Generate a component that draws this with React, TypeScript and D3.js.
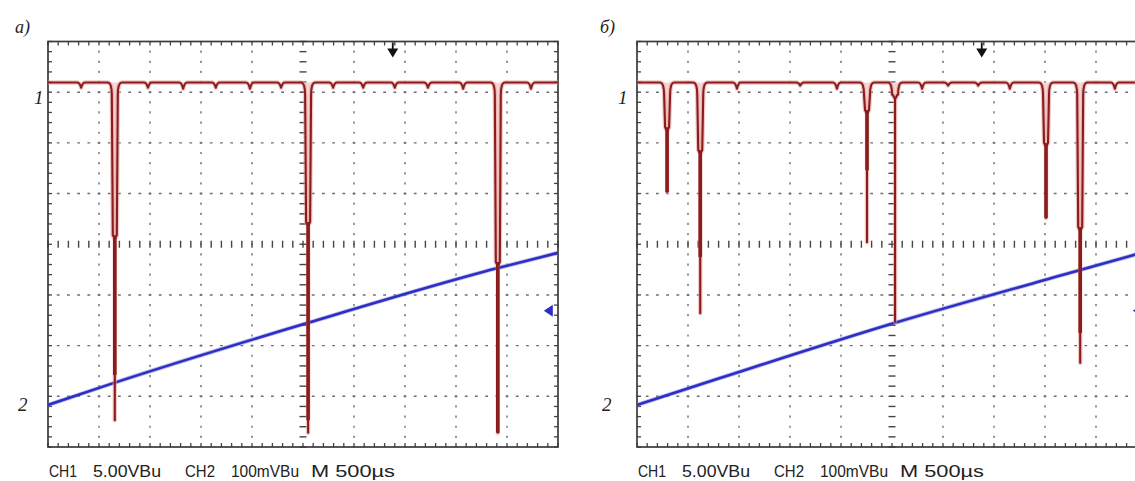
import React from 'react';
import * as d3 from 'd3';

const W = 1135;
const H = 481;
const PANEL_LEFTS = [48, 637];
const PANEL_TOP = 41.5;
const PANEL_W = 510;
const PANEL_H = 405.5;

// text
const panelLetters = ['а)', 'б)'];
const channelLabels = ['1', '2'];
const bottomLabels = ['CH1', '5.00VBu', 'CH2', '100mVBu', 'M 500µs'];
const bottomOffsets = [1, 45, 137, 183, 263];
const bottomWidths = [28, 68, 30, 68, 84];

// channel 1 (divisions)
const ch1Level = 3.19;
// small notches [position, depth]
const smallDipsA: [number, number][] = [
  [0.65, 0.1], [1.96, 0.1], [2.65, 0.12], [3.29, 0.1], [3.96, 0.12], [4.57, 0.1],
  [5.59, 0.1], [6.18, 0.1], [6.8, 0.1], [7.45, 0.1], [8.14, 0.12], [9.47, 0.12],
];
const smallDipsB: [number, number][] = [
  [1.96, 0.12], [3.2, 0.06], [3.92, 0.12], [5.59, 0.12], [6.1, 0.06], [6.69, 0.06],
  [7.31, 0.12], [9.37, 0.12],
];
// deep dips: position, bottom, end of hollow section, end of solid section
const deepDipsA = [
  { pos: 1.31, bottom: -3.47, hollowEnd: 0.18, solidEnd: -2.58 },
  { pos: 5.1, bottom: -3.72, hollowEnd: 0.44, solidEnd: -3.47 },
  { pos: 8.82, bottom: -3.72, hollowEnd: -0.35, solidEnd: -3.72 },
];
const deepDipsB = [
  { pos: 0.59, bottom: 1.03, hollowEnd: 2.31, solidEnd: 1.03 },
  { pos: 1.24, bottom: -1.36, hollowEnd: 1.86, solidEnd: -0.25 },
  { pos: 4.51, bottom: 0.04, hollowEnd: 2.65, solidEnd: 1.46 },
  { pos: 5.06, bottom: -1.53, hollowEnd: 2.94, solidEnd: 2.94 },
  { pos: 8.02, bottom: 0.52, hollowEnd: 2.0, solidEnd: 0.52 },
  { pos: 8.69, bottom: -2.34, hollowEnd: 0.34, solidEnd: -1.75 },
];

// channel 2 ramp [time div, level div]
const rampA: [number, number][] = [[0, -3.17], [1.31, -2.73], [5.1, -1.55], [8.82, -0.47], [10, -0.17]];
const rampB: [number, number][] = [[0, -3.17], [1.63, -2.64], [5.06, -1.55], [8.69, -0.51], [10, -0.14]];

const triggerPos = 6.76;
const ch2Marker: [number, number] = [9.82, -1.31];

const panels = [
  { small: smallDipsA, deep: deepDipsA, ramp: rampA },
  { small: smallDipsB, deep: deepDipsB, ramp: rampB },
];

const RED = '#8b1c1c';
const BLUE = '#2e2ec4';
const GRID = '#6e6e6e';

function Panel({ idx }: { idx: number }) {
  const left = PANEL_LEFTS[idx];
  const { small, deep, ramp } = panels[idx];
  const x = d3.scaleLinear().domain([0, 10]).range([left, left + PANEL_W]);
  const y = d3.scaleLinear().domain([-4, 4]).range([PANEL_TOP + PANEL_H, PANEL_TOP]);
  const top = PANEL_TOP;
  const bottom = PANEL_TOP + PANEL_H;
  const right = left + PANEL_W;
  const minorX = d3.range(51).map((k) => k / 5);
  const minorY = d3.range(41).map((k) => k / 5 - 4);
  const dx = PANEL_W / 50;
  const dy = PANEL_H / 40;

  const base = y(ch1Level);
  type Ev = { kind: 's'; p: number; d: number } | { kind: 'd'; p: number; dip: typeof deepDipsA[0] };
  const events: Ev[] = [
    ...small.map(([p, d]) => ({ kind: 's' as const, p, d })),
    ...deep.map((dip) => ({ kind: 'd' as const, p: dip.pos, dip })),
  ].sort((a, b) => a.p - b.p);

  const tr = d3.path();
  tr.moveTo(x(0), base);
  const hollows: string[] = [];
  events.forEach((e) => {
    const cx = x(e.p);
    if (e.kind === 's') {
      tr.lineTo(cx - 4, base);
      tr.quadraticCurveTo(cx - 1.5, base, cx, y(ch1Level - e.d));
      tr.quadraticCurveTo(cx + 1.5, base, cx + 4, base);
    } else {
      const hy = y(e.dip.hollowEnd);
      const by = y(e.dip.bottom);
      tr.lineTo(cx - 7, base);
      tr.quadraticCurveTo(cx - 3.2, base, cx - 3, base + 12);
      tr.lineTo(cx - 2, hy);
      tr.lineTo(cx, Math.min(hy + 4, by));
      tr.lineTo(cx, by);
      tr.lineTo(cx, Math.min(hy + 4, by));
      tr.lineTo(cx + 2, hy);
      tr.lineTo(cx + 3, base + 12);
      tr.quadraticCurveTo(cx + 3.2, base, cx + 7, base);
      const hp = d3.path();
      hp.moveTo(cx - 6, base);
      hp.quadraticCurveTo(cx - 3.2, base, cx - 3, base + 12);
      hp.lineTo(cx - 2, hy);
      hp.lineTo(cx + 2, hy);
      hp.lineTo(cx + 3, base + 12);
      hp.quadraticCurveTo(cx + 3.2, base, cx + 6, base);
      hp.closePath();
      hollows.push(hp.toString());
    }
  });
  tr.lineTo(x(10), base);

  const rampLine = d3
    .line<[number, number]>()
    .x((d) => x(d[0]))
    .y((d) => y(d[1]))
    .curve(d3.curveMonotoneX)(ramp) as string;

  const tx = x(triggerPos);
  const [mx, my] = [x(ch2Marker[0]), y(ch2Marker[1])];
  const clipId = `clip${idx}`;

  return (
    <g>
      <defs>
        <clipPath id={clipId}>
          <rect x={left} y={top} width={PANEL_W} height={PANEL_H} />
        </clipPath>
      </defs>
      {/* grid */}
      {d3.range(1, 10).filter((i) => i !== 5).map((i) => (
        <line key={'v' + i} x1={x(i)} x2={x(i)} y1={top} y2={bottom} stroke={GRID} strokeWidth={1.4}
          strokeDasharray={`2.2 ${dy - 2.2}`} strokeDashoffset={1.1} />
      ))}
      {d3.range(-3, 4).filter((j) => j !== 0).map((j) => (
        <line key={'h' + j} x1={left} x2={right} y1={y(j)} y2={y(j)} stroke={GRID} strokeWidth={1.4}
          strokeDasharray={`2.8 ${dx - 2.8}`} strokeDashoffset={1.4} />
      ))}
      {/* center cross ticks */}
      {minorX.map((v, k) => (
        <line key={'cx' + k} x1={x(v)} x2={x(v)} y1={y(0) - 3.5} y2={y(0) + 3.5} stroke="#444" strokeWidth={1.4} />
      ))}
      {minorY.map((v, k) => (
        <line key={'cy' + k} x1={x(5) - 3.5} x2={x(5) + 3.5} y1={y(v)} y2={y(v)} stroke="#444" strokeWidth={1.4} />
      ))}
      {/* border ticks */}
      {minorX.map((v, k) => (
        <g key={'bt' + k}>
          <line x1={x(v)} x2={x(v)} y1={top} y2={top + 4} stroke="#444" strokeWidth={1.3} />
          <line x1={x(v)} x2={x(v)} y1={bottom} y2={bottom - 4} stroke="#444" strokeWidth={1.3} />
        </g>
      ))}
      {minorY.map((v, k) => (
        <g key={'bl' + k}>
          <line x1={left} x2={left + 4} y1={y(v)} y2={y(v)} stroke="#444" strokeWidth={1.3} />
          <line x1={right} x2={right - 4} y1={y(v)} y2={y(v)} stroke="#444" strokeWidth={1.3} />
        </g>
      ))}
      <rect x={left} y={top} width={PANEL_W} height={PANEL_H} fill="none" stroke="#3a3a3a" strokeWidth={1.7} />

      <g clipPath={`url(#${clipId})`}>
        {/* channel 2 */}
        <path d={rampLine} fill="none" stroke="#8a8ae6" strokeWidth={4.2} opacity={0.6} />
        <path d={rampLine} fill="none" stroke={BLUE} strokeWidth={2.6} />
        {/* channel 1 */}
        {hollows.map((d, k) => (
          <path key={'ho' + k} d={d} fill="#f7d6d6" />
        ))}
        <path d={tr.toString()} fill="none" stroke="#e39a9a" strokeWidth={4.5} opacity={0.55} strokeLinejoin="round" />
        <path d={tr.toString()} fill="none" stroke={RED} strokeWidth={2.1} strokeLinejoin="round" />
        {deep.map((dip, k) => (
          <line key={'so' + k} x1={x(dip.pos)} x2={x(dip.pos)} y1={y(dip.hollowEnd)} y2={y(dip.solidEnd)}
            stroke={RED} strokeWidth={3.6} />
        ))}
        {/* trigger arrow */}
        <line x1={tx} x2={tx} y1={top + 1} y2={top + 8} stroke="#111" strokeWidth={1.8} />
        <path d={`M${tx - 5.5},${top + 7}L${tx + 5.5},${top + 7}L${tx},${top + 16}Z`} fill="#111" />
        {/* ch2 ground marker */}
        <path d={`M${mx - 5},${my}L${mx + 4},${my - 6}L${mx + 4},${my + 6}Z`} fill={BLUE} />
      </g>
    </g>
  );
}

export default function App() {
  return (
    <svg width={W} height={H} viewBox={`0 0 ${W} ${H}`}
      style={{ position: 'absolute', left: 0, top: 0, background: '#fff' }}>
      <rect x={0} y={0} width={W} height={H} fill="#fff" />
      {PANEL_LEFTS.map((left, i) => (
        <g key={i}>
          <Panel idx={i} />
          <text x={i === 0 ? 15 : 600} y={33} fontFamily="'Liberation Serif', 'Times New Roman', serif"
            fontStyle="italic" fontSize={18} fill="#222">{panelLetters[i]}</text>
          <text x={i === 0 ? 34 : 618} y={104} fontFamily="'Liberation Serif', 'Times New Roman', serif"
            fontStyle="italic" fontSize={19} fill="#222">{channelLabels[0]}</text>
          <text x={i === 0 ? 18 : 602} y={411} fontFamily="'Liberation Serif', 'Times New Roman', serif"
            fontStyle="italic" fontSize={19} fill="#222">{channelLabels[1]}</text>
          {bottomLabels.map((t, k) => (
            <text key={k} x={left + bottomOffsets[k]} y={477}
              fontFamily="'Liberation Sans Narrow', 'Liberation Sans', Arial, sans-serif"
              fontSize={16} fill="#222" textLength={bottomWidths[k]} lengthAdjust="spacingAndGlyphs">{t}</text>
          ))}
        </g>
      ))}
    </svg>
  );
}
